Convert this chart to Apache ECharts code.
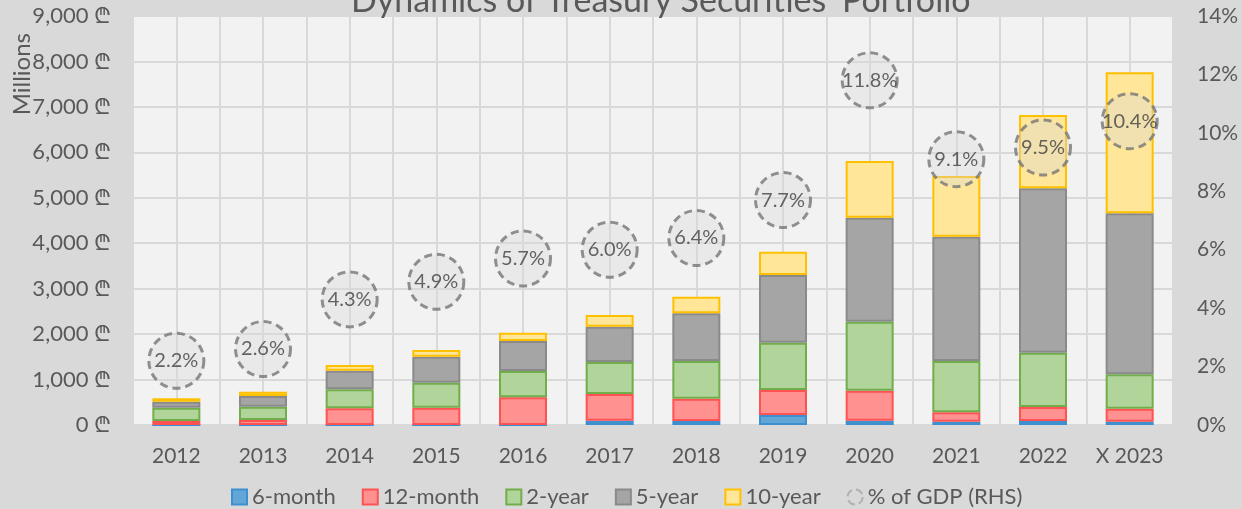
<!DOCTYPE html>
<html>
<head>
    <meta charset="utf-8">
    <title>Treasury Securities</title>
    <script src="https://cdn.jsdelivr.net/npm/echarts@6/dist/echarts.min.js"></script>
    <style>
        html, body { margin: 0; padding: 0; background: #d9d9d9; }
    </style>
</head>
<body>
<div id="main" style="width: 1242px;height:509px;"></div>
<script type="text/javascript">
    // data (millions of lari)
    var years = ['2012', '2013', '2014', '2015', '2016', '2017', '2018', '2019', '2020', '2021', '2022', 'X 2023'];
    var sixMonth = [0, 0, 0, 0, 0, 95, 88, 220, 95, 73, 88, 73];
    var twelveMonth = [88, 110, 367, 381, 610, 587, 491, 550, 660, 206, 308, 286];
    var twoYear = [293, 293, 419, 550, 578, 704, 829, 1041, 1518, 1129, 1195, 757];
    var fiveYear = [132, 235, 409, 572, 661, 777, 1050, 1490, 2289, 2736, 3618, 3543];
    var tenYear = [74, 95, 125, 147, 182, 258, 366, 513, 1248, 1336, 1613, 3103];
    var gdpShare = [2.2, 2.6, 4.3, 4.9, 5.7, 6.0, 6.4, 7.7, 11.8, 9.1, 9.5, 10.4];

    var font = 'Lato, "Noto Sans", "DejaVu Sans", sans-serif';
    var txt = '#595959';

    var myChart = echarts.init(document.getElementById('main'));

    function barSeries(name, values, fill, border) {
        return {
            name: name,
            type: 'bar',
            stack: 'total',
            barWidth: 48,
            data: values,
            itemStyle: { color: fill, borderColor: border, borderWidth: 2 }
        };
    }

    myChart.setOption({
        animation: false,
        backgroundColor: '#d9d9d9',
        textStyle: { fontFamily: font },
        title: {
            text: "Dynamics of Treasury Securities' Portfolio",
            left: 346,
            top: -21,
            textStyle: { fontSize: 34, fontWeight: 'normal', color: txt, fontFamily: font }
        },
        graphic: [{
            type: 'text',
            left: 10,
            top: 33,
            rotation: Math.PI / 2,
            style: { text: 'Millions', fontSize: 24, fill: txt, fontFamily: font }
        }],
        legend: {
            left: 226,
            top: 481,
            icon: 'rect',
            itemWidth: 15,
            itemHeight: 15,
            itemGap: 26,
            textStyle: { fontSize: 22, color: txt, fontFamily: font },
            data: ['6-month', '12-month', '2-year', '5-year', '10-year', {
                name: '% of GDP (RHS)',
                icon: 'circle',
                itemStyle: { color: 'rgba(0,0,0,0)', borderColor: '#a6a6a6', borderWidth: 2, borderType: 'dashed' }
            }]
        },
        grid: {
            left: 133,
            right: 69,
            top: 16,
            bottom: 84,
            show: true,
            backgroundColor: '#f2f2f2',
            borderWidth: 0
        },
        xAxis: [{
            type: 'category',
            data: years,
            axisLine: { show: false },
            axisTick: { show: false },
            axisLabel: { interval: 0, fontSize: 21, color: txt, margin: 21 }
        }, {
            // only used for the vertical grid lines (every half category)
            type: 'value',
            position: 'top',
            min: 0,
            max: 24,
            interval: 1,
            axisLine: { show: false },
            axisTick: { show: false },
            axisLabel: { show: false },
            splitLine: { show: true, lineStyle: { color: '#d9d9d9', width: 2 } }
        }],
        yAxis: [{
            type: 'value',
            min: 0,
            max: 9000,
            interval: 1000,
            axisLine: { show: false },
            axisTick: { show: false },
            axisLabel: {
                fontSize: 22, color: txt, margin: 22,
                formatter: function (v) { return v.toLocaleString('en-US') + ' \u20BE'; }
            },
            splitLine: { lineStyle: { color: '#d9d9d9', width: 2 } }
        }, {
            type: 'value',
            min: 0,
            max: 14,
            interval: 2,
            axisLine: { show: false },
            axisTick: { show: false },
            axisLabel: { fontSize: 21, color: txt, margin: 24, formatter: '{value}%' },
            splitLine: { show: false }
        }],
        series: [
            barSeries('6-month', sixMonth, '#62a6d7', '#3d8fd0'),
            barSeries('12-month', twelveMonth, '#ff9191', '#ff5252'),
            barSeries('2-year', twoYear, '#b0d49a', '#72ad4c'),
            barSeries('5-year', fiveYear, '#a5a5a5', '#8a8a8a'),
            barSeries('10-year', tenYear, '#ffe699', '#ffc000'),
            {
                name: '% of GDP (RHS)',
                type: 'scatter',
                yAxisIndex: 1,
                data: gdpShare,
                symbol: 'circle',
                symbolSize: 55,
                z: 5,
                itemStyle: {
                    color: 'rgba(215,215,215,0.45)',
                    borderColor: '#767676',
                    borderWidth: 3,
                    borderType: [8, 5]
                },
                label: {
                    show: true,
                    position: 'inside',
                    fontSize: 20,
                    color: '#404040',
                    formatter: function (p) { return p.value.toFixed(1) + '%'; }
                }
            }
        ]
    });
</script>
</body>
</html>
